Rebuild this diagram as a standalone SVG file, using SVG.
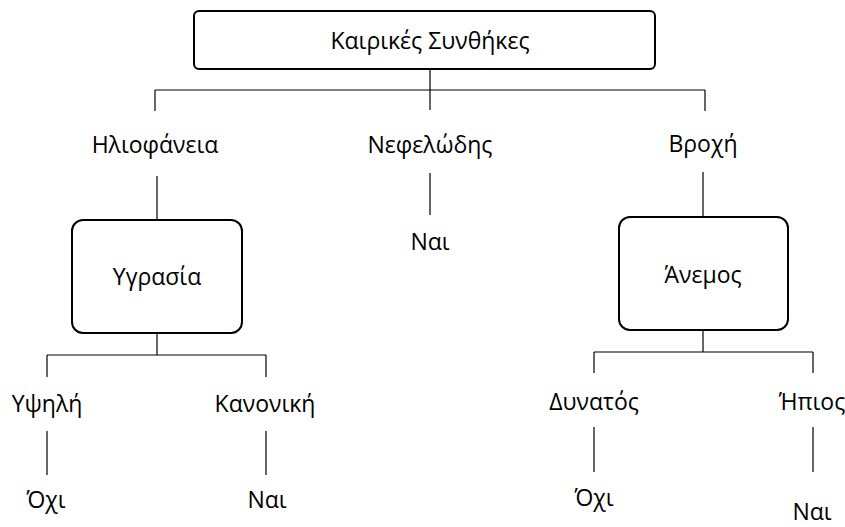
<svg xmlns="http://www.w3.org/2000/svg" width="845" height="527" viewBox="0 0 845 527">
<style>
text{font-family:"Open Sans","Noto Sans","DejaVu Sans",sans-serif;font-size:23px;fill:#000;text-anchor:middle}
.box{fill:#fff;stroke:#000;stroke-width:2}
.c line{stroke:#000;stroke-width:1.2}
</style>
<rect width="845" height="527" fill="#fff"/>
<g class="c" id="connectors">
<line x1="430" y1="69" x2="430" y2="110"/>
<line x1="155" y1="90" x2="705" y2="90"/>
<line x1="155" y1="90" x2="155" y2="111"/>
<line x1="705" y1="90" x2="705" y2="111"/>
<line x1="157" y1="176" x2="157" y2="220"/>
<line x1="430" y1="173" x2="430" y2="215"/>
<line x1="703" y1="172" x2="703" y2="217"/>
<line x1="157" y1="333" x2="157" y2="355"/>
<line x1="47" y1="355" x2="266" y2="355"/>
<line x1="47" y1="355" x2="47" y2="377"/>
<line x1="266" y1="355" x2="266" y2="377"/>
<line x1="47" y1="431" x2="47" y2="475"/>
<line x1="266" y1="431" x2="266" y2="475"/>
<line x1="703" y1="330" x2="703" y2="352"/>
<line x1="594" y1="352" x2="813" y2="352"/>
<line x1="594" y1="352" x2="594" y2="373"/>
<line x1="813" y1="352" x2="813" y2="373"/>
<line x1="594" y1="427" x2="594" y2="472"/>
<line x1="813" y1="427" x2="813" y2="472"/>
</g>
<g id="root"><rect class="box" x="194" y="11" width="461" height="58" rx="5"/><text x="430" y="49">Καιρικές Συνθήκες</text></g>
<g id="sun"><text x="155" y="153">Ηλιοφάνεια</text></g>
<g id="cloud"><text x="430" y="153">Νεφελώδης</text></g>
<g id="rain"><text x="703" y="152">Βροχή</text></g>
<g id="cloud-yes"><text x="430" y="250">Ναι</text></g>
<g id="humidity"><rect class="box" x="72" y="220" width="170" height="113" rx="11"/><text x="157" y="285">Υγρασία</text></g>
<g id="wind"><rect class="box" x="619" y="217" width="169" height="113" rx="11"/><text x="703" y="283">Άνεμος</text></g>
<g id="high"><text x="47" y="412">Υψηλή</text></g>
<g id="normal"><text x="265" y="412">Κανονική</text></g>
<g id="strong"><text x="594" y="410">Δυνατός</text></g>
<g id="mild"><text x="812" y="410">Ήπιος</text></g>
<g id="high-no"><text x="46" y="508">Όχι</text></g>
<g id="normal-yes"><text x="267" y="508">Ναι</text></g>
<g id="strong-no"><text x="594" y="506">Όχι</text></g>
<g id="mild-yes"><text x="812" y="520">Ναι</text></g>
</svg>
